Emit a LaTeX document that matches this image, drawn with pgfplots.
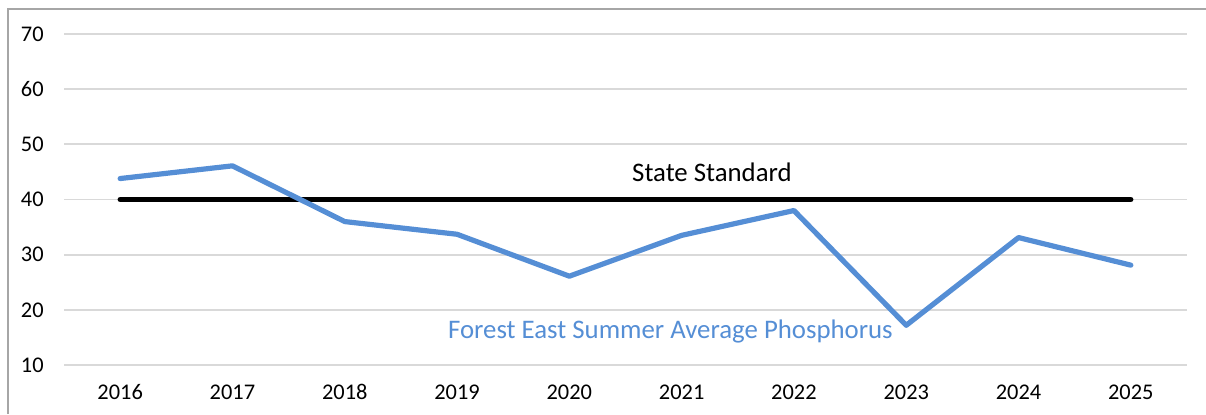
\documentclass[border=0pt]{standalone}
\usepackage{fontspec}
\setmainfont{Carlito}
\usepackage{pgfplots}
\pgfplotsset{compat=1.18}
\definecolor{lineblue}{HTML}{558ED5}
\definecolor{gridgray}{HTML}{D9D9D9}
\definecolor{bordergray}{HTML}{A6A6A6}
\begin{document}
\begin{tikzpicture}
\useasboundingbox (0,0) rectangle (603pt,207pt);
\draw[bordergray, line width=0.9pt] (4pt,0) -- (4pt,202.5pt) -- (603pt,202.5pt);
\begin{axis}[
 at={(32pt,24.5pt)}, anchor=south west,
 scale only axis, width=561.5pt, height=165.5pt,
 xmin=-0.5, xmax=9.5, ymin=10, ymax=70,
 xtick={0,1,2,3,4,5,6,7,8,9},
 xticklabels={2016,2017,2018,2019,2020,2021,2022,2023,2024,2025},
 ytick={10,20,30,40,50,60,70},
 ymajorgrids, grid style={gridgray, line width=0.9pt},
 axis line style={draw=none}, tick style={draw=none},
 /pgf/number format/assume math mode=true,
 tick label style={font=\fontsize{11.2}{13}\selectfont},
 yticklabel style={anchor=east, inner sep=0pt, xshift=-10pt},
 xticklabel style={anchor=base, inner sep=0pt, yshift=-17pt},
 clip=false,
]
\addplot[black, line width=2.6pt, line cap=round] coordinates {(0,40) (9,40)};
\addplot[lineblue, line width=2.6pt, line cap=round, line join=round] coordinates {
 (0,43.8) (1,46.1) (2,36.0) (3,33.7) (4,26.1) (5,33.5) (6,38.0) (7,17.2) (8,33.1) (9,28.1)};
\node[font=\fontsize{13.4}{15}\selectfont] at (axis cs:5.27,44.9) {State Standard};
\node[font=\fontsize{13.4}{15}\selectfont, text=lineblue] at (axis cs:4.9,16.1) {Forest East Summer Average Phosphorus};
\end{axis}
\end{tikzpicture}
\end{document}
